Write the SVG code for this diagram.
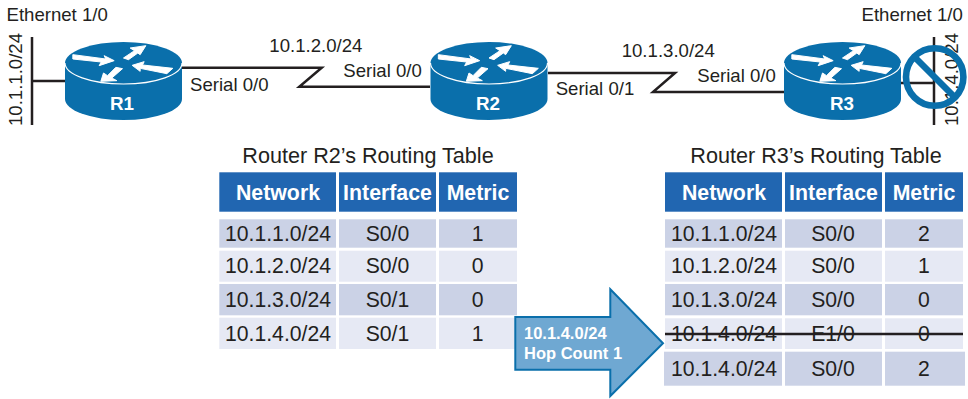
<svg xmlns="http://www.w3.org/2000/svg" width="968" height="399" viewBox="0 0 968 399">
<style>
text{font-family:"Liberation Sans",Arial,sans-serif;fill:#231f20}
.lbl{font-size:18.6px}
.ttl{font-size:21.6px;text-anchor:middle}
.hdr{font-size:21.3px;font-weight:bold;fill:#fff;text-anchor:middle}
.cell{font-size:21.2px;text-anchor:middle}
.rl{font-size:18.8px;font-weight:bold;fill:#fff;text-anchor:middle}
.ar{font-size:16.5px;font-weight:bold;fill:#fff}
.h{fill:#2166b1}
.d{fill:#cbd2e6}
.l{fill:#e6e9f4}
.wire{fill:none;stroke:#231f20;stroke-width:2.5}
</style>
<defs>
<g id="rt">
<path d="M-58.5 0V36A58.5 21 0 0 0 58.5 36V0Z" fill="#0a6fab"/>
<ellipse cx="0" cy="0" rx="58.5" ry="21" fill="#0a6fab"/>
<path d="M-58.5 0A58.5 21 0 0 0 58.5 0" fill="none" stroke="#fff" stroke-width="1.2"/>
<g transform="scale(.3333) translate(-370 -190)" fill="#fff" stroke="#fff" stroke-width="3">
<polygon points="218,165 317,178 312,168 342,183 297,198 303,187 218,178"/>
<polygon points="370,175 403,153 390,145 437,138 420,165 413,160 385,180"/>
<polygon points="396,197 432,186 427,196 518,206 500,222 420,206 420,215"/>
<polygon points="302,245 310,220 322,228 347,203 367,207 335,235 350,243"/>
</g>
</g>
</defs>

<g id="connectors">
<path class="wire" d="M32 37V125M32 81H65"/>
<path class="wire" d="M182 67.7H321.7L299.3 86.7H430"/>
<path class="wire" d="M548 73H675L653 92H784"/>
<path class="wire" d="M934 37V125M901 83H934"/>
</g>

<g id="net-r1-lan">
<text class="lbl" x="6.5" y="20.7">Ethernet 1/0</text>
<text class="lbl" transform="translate(21.5 126) rotate(-90)">10.1.1.0/24</text>
</g>
<g id="link-labels">
<text class="lbl" x="269.3" y="51.7">10.1.2.0/24</text>
<text class="lbl" x="190" y="91">Serial 0/0</text>
<text class="lbl" x="343.3" y="76.7">Serial 0/0</text>
<text class="lbl" x="621.7" y="56.7">10.1.3.0/24</text>
<text class="lbl" x="555.7" y="95">Serial 0/1</text>
<text class="lbl" x="697.3" y="81.7">Serial 0/0</text>
</g>

<g id="R1"><use href="#rt" transform="translate(123.5 63)"/><text class="rl" x="122" y="110">R1</text></g>
<g id="R2"><use href="#rt" transform="translate(489 63)"/><text class="rl" x="488" y="110">R2</text></g>
<g id="R3"><use href="#rt" transform="translate(842.5 63)"/><text class="rl" x="842" y="110">R3</text></g>

<g id="net-r3-lan">
<text class="lbl" x="861.5" y="20.7">Ethernet 1/0</text>
<text class="lbl" transform="translate(958 126) rotate(-90)">10.1.4.0/24</text>
<circle cx="934.7" cy="77" r="28.7" fill="none" stroke="#0a6fab" stroke-width="6.6"/>
<path d="M914 56.5L955.5 98" fill="none" stroke="#0a6fab" stroke-width="6.6"/>
</g>

<g id="table-r2">
<text class="ttl" x="368" y="162.7">Router R2’s Routing Table</text>
<rect class="h" x="219.3" y="172.3" width="116.7" height="39.4"/><rect class="h" x="339" y="172.3" width="97" height="39.4"/><rect class="h" x="439" y="172.3" width="78" height="39.4"/>
<text class="hdr" x="278" y="200">Network</text><text class="hdr" x="387.5" y="200">Interface</text><text class="hdr" x="478" y="200">Metric</text>
<rect class="d" x="219.3" y="219.3" width="116.7" height="28.4"/><rect class="d" x="339" y="219.3" width="97" height="28.4"/><rect class="d" x="439" y="219.3" width="78" height="28.4"/>
<rect class="l" x="219.3" y="250.7" width="116.7" height="31"/><rect class="l" x="339" y="250.7" width="97" height="31"/><rect class="l" x="439" y="250.7" width="78" height="31"/>
<rect class="d" x="219.3" y="284" width="116.7" height="31.3"/><rect class="d" x="339" y="284" width="97" height="31.3"/><rect class="d" x="439" y="284" width="78" height="31.3"/>
<rect class="l" x="219.3" y="317.7" width="116.7" height="31.3"/><rect class="l" x="339" y="317.7" width="97" height="31.3"/><rect class="l" x="439" y="317.7" width="78" height="31.3"/>
<text class="cell" x="278" y="240.7">10.1.1.0/24</text><text class="cell" x="387.5" y="240.7">S0/0</text><text class="cell" x="477.7" y="240.7">1</text>
<text class="cell" x="278" y="272.7">10.1.2.0/24</text><text class="cell" x="387.5" y="272.7">S0/0</text><text class="cell" x="477.7" y="272.7">0</text>
<text class="cell" x="278" y="306.7">10.1.3.0/24</text><text class="cell" x="387.5" y="306.7">S0/1</text><text class="cell" x="477.7" y="306.7">0</text>
<text class="cell" x="278" y="340.7">10.1.4.0/24</text><text class="cell" x="387.5" y="340.7">S0/1</text><text class="cell" x="477.7" y="340.7">1</text>
</g>

<g id="table-r3">
<text class="ttl" x="816" y="162.7">Router R3’s Routing Table</text>
<rect class="h" x="665" y="172.3" width="117" height="39.4"/><rect class="h" x="785" y="172.3" width="97" height="39.4"/><rect class="h" x="885" y="172.3" width="78" height="39.4"/>
<text class="hdr" x="724" y="200">Network</text><text class="hdr" x="833.5" y="200">Interface</text><text class="hdr" x="924" y="200">Metric</text>
<rect class="d" x="665" y="219.3" width="117" height="28.4"/><rect class="d" x="785" y="219.3" width="97" height="28.4"/><rect class="d" x="885" y="219.3" width="78" height="28.4"/>
<rect class="l" x="665" y="250.7" width="117" height="31"/><rect class="l" x="785" y="250.7" width="97" height="31"/><rect class="l" x="885" y="250.7" width="78" height="31"/>
<rect class="d" x="665" y="284" width="117" height="31.3"/><rect class="d" x="785" y="284" width="97" height="31.3"/><rect class="d" x="885" y="284" width="78" height="31.3"/>
<rect class="l" x="665" y="318.3" width="117" height="30.7"/><rect class="l" x="785" y="318.3" width="97" height="30.7"/><rect class="l" x="885" y="318.3" width="78" height="30.7"/>
<rect class="d" x="664" y="351.7" width="118" height="34"/><rect class="d" x="785" y="351.7" width="97" height="34"/><rect class="d" x="885" y="351.7" width="80" height="34"/>
<text class="cell" x="724" y="240.7">10.1.1.0/24</text><text class="cell" x="833" y="240.7">S0/0</text><text class="cell" x="924" y="240.7">2</text>
<text class="cell" x="724" y="272.7">10.1.2.0/24</text><text class="cell" x="833" y="272.7">S0/0</text><text class="cell" x="924" y="272.7">1</text>
<text class="cell" x="724" y="307.2">10.1.3.0/24</text><text class="cell" x="833" y="307.2">S0/0</text><text class="cell" x="924" y="307.2">0</text>
<text class="cell" x="724" y="341">10.1.4.0/24</text><text class="cell" x="833" y="341">E1/0</text><text class="cell" x="924" y="341">0</text>
<text class="cell" x="724" y="376">10.1.4.0/24</text><text class="cell" x="833" y="376">S0/0</text><text class="cell" x="924" y="376">2</text>
<path d="M665 334H963" fill="none" stroke="#231f20" stroke-width="2.5"/>
</g>

<g id="update-arrow">
<polygon points="515.3,317 610.3,317 610.3,289.2 663,343.3 610.3,396 610.3,369.7 515.3,369.7" fill="#6fa8d2" stroke="#0a6fab" stroke-width="2"/>
<text class="ar" x="524" y="338.7">10.1.4.0/24</text>
<text class="ar" x="524" y="358.7">Hop Count 1</text>
</g>
</svg>
